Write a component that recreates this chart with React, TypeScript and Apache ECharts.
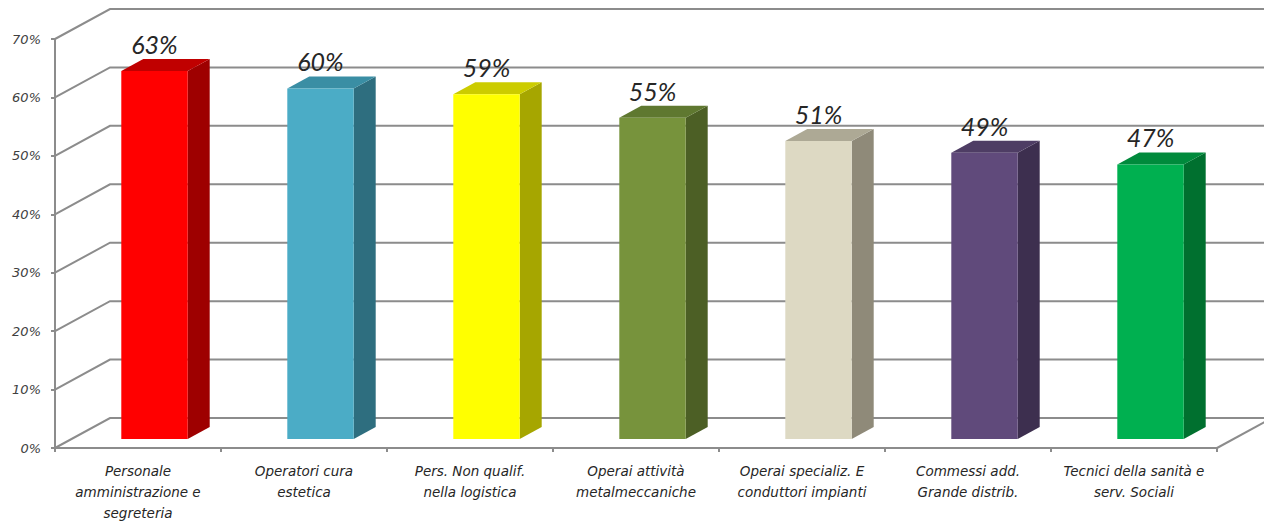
import React, { useEffect, useRef } from "react";
import * as echarts from "echarts";

const categories = [
  "Personale\namministrazione e\nsegreteria",
  "Operatori cura\nestetica",
  "Pers. Non qualif.\nnella logistica",
  "Operai attività\nmetalmeccaniche",
  "Operai specializ. E\nconduttori impianti",
  "Commessi add.\nGrande distrib.",
  "Tecnici della sanità e\nserv. Sociali",
];
const values = [63, 60, 59, 55, 51, 49, 47];
const frontColors = ["#FF0000", "#4BACC6", "#FFFF00", "#77933C", "#DDD9C3", "#604A7B", "#00B050"];
const sideColors = ["#9E0000", "#2E6E7F", "#A6A600", "#4C5F25", "#8F8A79", "#3D2F4F", "#00702F"];
const topColors = ["#C00000", "#3A8EA4", "#CCCC00", "#5F7830", "#ADA995", "#4E3D64", "#008A3C"];
const yTicks = [0, 10, 20, 30, 40, 50, 60, 70];

const DEPTH_X = 55;
const DEPTH_Y = 30;
const BAR_D0 = 0.3;
const BAR_D1 = 0.7;
const BAR_W = 0.4;
const GRID_COLOR = "#8C8C8C";
const FONT = "Lato, 'Open Sans', sans-serif";
const AXIS_FONT = "'DejaVu Sans', sans-serif";

export default function App() {
  const ref = useRef<HTMLDivElement>(null);
  useEffect(() => {
    if (!ref.current) return;
    const chart = echarts.init(ref.current, null, { renderer: "svg" });
    chart.setOption({
      animation: false,
      backgroundColor: "#FFFFFF",
      grid: { left: 55, right: 47, top: 39, bottom: 76 },
      xAxis: {
        type: "category",
        data: categories,
        axisLine: { show: true, lineStyle: { color: GRID_COLOR, width: 2 } },
        axisTick: { show: true, alignWithLabel: false, length: 4, lineStyle: { color: GRID_COLOR, width: 2 } },
        axisLabel: {
          interval: 0,
          margin: 12,
          fontFamily: AXIS_FONT,
          fontStyle: "italic",
          fontSize: 13.5,
          lineHeight: 21,
          color: "#262626",
        },
        splitLine: { show: false },
      },
      yAxis: {
        type: "value",
        min: 0,
        max: 70,
        interval: 10,
        axisLine: { show: true, lineStyle: { color: GRID_COLOR, width: 2 } },
        axisTick: { show: true, length: 4, lineStyle: { color: GRID_COLOR, width: 2 } },
        axisLabel: {
          formatter: "{value}%",
          margin: 14,
          fontFamily: AXIS_FONT,
          fontStyle: "italic",
          fontSize: 13,
          color: "#404040",
        },
        splitLine: { show: false },
      },
      series: [
        {
          type: "custom",
          z: 1,
          silent: true,
          data: yTicks.map((v) => [0, v]),
          renderItem: (params: any, api: any) => {
            const cs = params.coordSys;
            const v = api.value(1);
            const y = api.coord([0, v])[1];
            const x0 = cs.x;
            const x1 = cs.x + cs.width;
            const children: any[] = [
              {
                type: "polyline",
                shape: {
                  points: [
                    [x0, y],
                    [x0 + DEPTH_X, y - DEPTH_Y],
                    [x1 + DEPTH_X, y - DEPTH_Y],
                  ],
                },
                style: { stroke: GRID_COLOR, lineWidth: 2, fill: "none" },
              },
            ];
            if (v === 0) {
              children.push({
                type: "line",
                shape: { x1: x1, y1: y, x2: x1 + DEPTH_X, y2: y - DEPTH_Y },
                style: { stroke: GRID_COLOR, lineWidth: 2 },
              });
            }
            return { type: "group", children };
          },
        },
        {
          type: "custom",
          z: 3,
          data: values.map((v, i) => [i, v]),
          renderItem: (params: any, api: any) => {
            const i = api.value(0);
            const v = api.value(1);
            const band = api.size([1, 0])[0];
            const c0 = api.coord([i, 0]);
            const c1 = api.coord([i, v]);
            const w = band * BAR_W;
            const fx = c0[0] + BAR_D0 * DEPTH_X;
            const xl = fx - w / 2;
            const xr = fx + w / 2;
            const yb = c0[1] - BAR_D0 * DEPTH_Y;
            const yt = c1[1] - BAR_D0 * DEPTH_Y;
            const ddx = (BAR_D1 - BAR_D0) * DEPTH_X;
            const ddy = (BAR_D1 - BAR_D0) * DEPTH_Y;
            return {
              type: "group",
              children: [
                {
                  type: "polygon",
                  shape: { points: [[xr, yt], [xr + ddx, yt - ddy], [xr + ddx, yb - ddy], [xr, yb]] },
                  style: { fill: sideColors[i] },
                },
                {
                  type: "polygon",
                  shape: { points: [[xl, yt], [xl + ddx, yt - ddy], [xr + ddx, yt - ddy], [xr, yt]] },
                  style: { fill: topColors[i] },
                },
                {
                  type: "rect",
                  shape: { x: xl, y: yt, width: w, height: yb - yt },
                  style: { fill: frontColors[i] },
                },
                {
                  type: "text",
                  x: fx,
                  y: yt - 27,
                  style: {
                    text: v + "%",
                    align: "center",
                    verticalAlign: "middle",
                    fontFamily: FONT,
                    fontStyle: "italic",
                    fontSize: 25,
                    fill: "#262626",
                  },
                },
              ],
            };
          },
        },
      ],
    });
    return () => chart.dispose();
  }, []);
  return (
    <div
      ref={ref}
      style={{ position: "fixed", left: 0, top: 0, width: 1264, height: 524 }}
    />
  );
}
